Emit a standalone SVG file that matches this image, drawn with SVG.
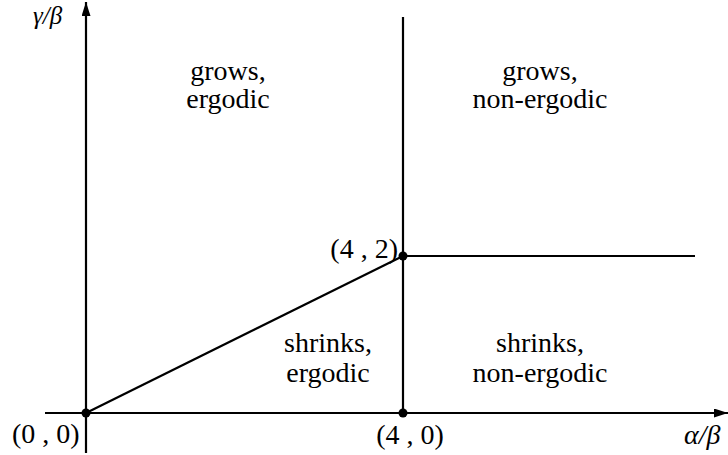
<svg xmlns="http://www.w3.org/2000/svg" width="728" height="455" viewBox="0 0 728 455">
<defs>
<style>
.t{font-size:28px;fill:#000}
.c{text-anchor:middle}
.i{font-style:italic}
.ln{stroke:#000;stroke-width:2.2;fill:none}
</style>
<marker id="ah" viewBox="0 0 14 9" refX="14" refY="4.5" markerWidth="14" markerHeight="9" orient="auto" markerUnits="userSpaceOnUse">
<path d="M0,0 L14,4.5 L0,9 Z" fill="#000"/>
</marker>
</defs>
<rect width="728" height="455" fill="#fff"/>
<g id="connectors">
<line class="ln" x1="86" y1="453" x2="86" y2="2" marker-end="url(#ah)"/>
<line class="ln" x1="45" y1="413" x2="728" y2="413" marker-end="url(#ah)"/>
<line class="ln" x1="403" y1="17" x2="403" y2="413"/>
<line class="ln" x1="403" y1="256" x2="695" y2="256"/>
<line class="ln" x1="86" y1="413" x2="403" y2="256"/>
</g>
<g class="t" font-family="Liberation Serif, DejaVu Serif, serif">
<g id="p00"><circle cx="86" cy="413" r="4.5"/><text x="12" y="443">(0 , 0)</text></g>
<g id="p40"><circle cx="403" cy="413" r="4.5"/><text class="c" x="410" y="444">(4 , 0)</text></g>
<g id="p42"><circle cx="403" cy="256" r="4.5"/><text x="398" y="258" text-anchor="end">(4 , 2)</text></g>
<g id="ylabel"><text class="i" x="33" y="24" font-size="25">γ/β</text></g>
<g id="xlabel"><text class="i" x="684" y="444">α/β</text></g>
<g id="r1"><text class="c" x="228" y="80">grows,</text><text class="c" x="228" y="108">ergodic</text></g>
<g id="r2"><text class="c" x="540" y="80">grows,</text><text class="c" x="540" y="108">non-ergodic</text></g>
<g id="r3"><text class="c" x="328" y="352">shrinks,</text><text class="c" x="328" y="382">ergodic</text></g>
<g id="r4"><text class="c" x="540" y="352">shrinks,</text><text class="c" x="540" y="382">non-ergodic</text></g>
</g>
</svg>
